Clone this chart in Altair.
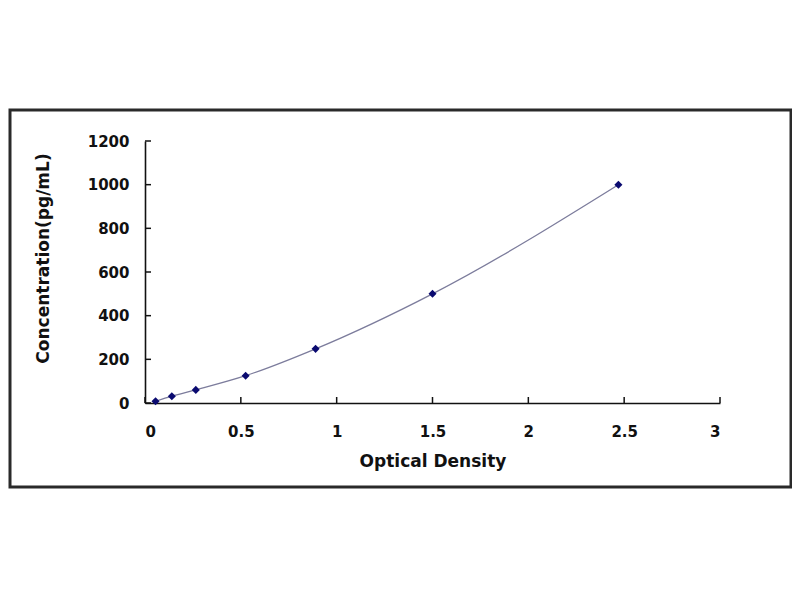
import altair as alt
import pandas as pd

# Standard curve data
od = [0.055, 0.14, 0.265, 0.525, 0.89, 1.50, 2.47]
conc = [8, 31, 60, 125, 248, 500, 1000]

x_ticks = [0, 0.5, 1, 1.5, 2, 2.5, 3]
y_ticks = [0, 200, 400, 600, 800, 1000, 1200]

W, H = 575, 262
FONT = "DejaVu Sans"

df = pd.DataFrame({"od": od, "conc": conc})
xt = pd.DataFrame({"v": x_ticks})
yt = pd.DataFrame({"v": y_ticks})

xscale = alt.Scale(domain=[0, 3], nice=False, zero=True)
yscale = alt.Scale(domain=[0, 1200], nice=False, zero=True)

xaxis = alt.Axis(values=x_ticks, format="~g", grid=False, ticks=False,
                 domainColor="#111111", domainWidth=1.6,
                 labelPadding=21, titlePadding=14,
                 labelFontSize=15, titleFontSize=17)
yaxis = alt.Axis(values=y_ticks, format="d", grid=False, ticks=False,
                 domainColor="#111111", domainWidth=1.6,
                 labelPadding=16, labelFontSize=15, titleFontSize=17,
                 titleAngle=270, titleX=-102, titleY=117,
                 titleAlign="center", titleBaseline="middle")

base = alt.Chart(df)

line = base.mark_line(color="#7c7c9c", strokeWidth=1.3, interpolate="monotone").encode(
    x=alt.X("od:Q", scale=xscale, axis=xaxis, title="Optical Density"),
    y=alt.Y("conc:Q", scale=yscale, axis=yaxis, title="Concentration(pg/mL)"),
)

pts = base.mark_point(shape="diamond", filled=True, size=65, color="#0a0a70", opacity=1).encode(
    x=alt.X("od:Q", scale=xscale),
    y=alt.Y("conc:Q", scale=yscale),
)

xtick_marks = alt.Chart(xt).mark_rule(color="#111111", strokeWidth=1.5).encode(
    x=alt.X("v:Q", scale=xscale),
    y=alt.value(H),
    y2=alt.value(H - 6),
)

ytick_marks = alt.Chart(yt).mark_rule(color="#111111", strokeWidth=1.5).encode(
    y=alt.Y("v:Q", scale=yscale),
    x=alt.value(0),
    x2=alt.value(6),
)

frame = alt.Chart(pd.DataFrame({"a": [0]})).mark_rect(
    fillOpacity=0, stroke="#2a2a2a", strokeWidth=3
).encode(
    x=alt.value(-135), x2=alt.value(646),
    y=alt.value(-31), y2=alt.value(346),
)

chart = alt.layer(frame, line, xtick_marks, ytick_marks, pts).properties(
    width=W, height=H,
    padding={"left": 137, "top": 133, "right": 72, "bottom": 100},
    autosize=alt.AutoSizeParams(type="none"),
    background="white",
).configure_view(stroke=None).configure_axis(
    labelFont=FONT, labelFontWeight="bold", labelColor="#111111",
    titleFont=FONT, titleFontWeight="bold", titleColor="#111111",
)

chart.save("out.html", embed_options={"renderer": "svg", "actions": False})
